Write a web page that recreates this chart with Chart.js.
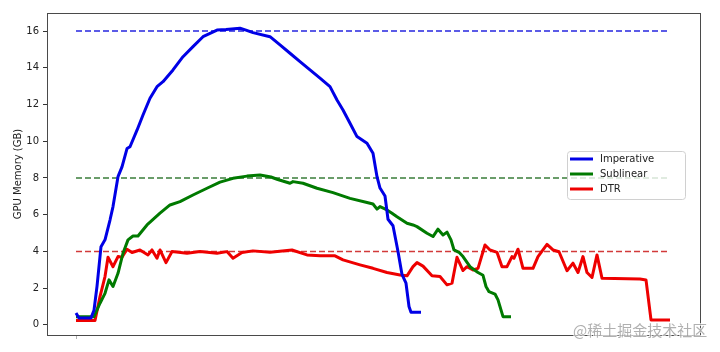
<!DOCTYPE html>
<html>
<head>
<meta charset="utf-8">
<script src="https://cdn.jsdelivr.net/npm/chart.js@4.4.1/dist/chart.umd.min.js"></script>
<style>
  html, body { margin: 0; padding: 0; background: #ffffff; }
  #wrap { width: 720px; height: 352px; }
</style>
</head>
<body>
<div id="wrap"><canvas id="c" width="720" height="352"></canvas></div>
<script>
// ---- data (x = training step position, y = GPU memory in GB) ----
const seriesNames = ['Imperative', 'Sublinear', 'DTR'];
const budgets = [16, 8, 4];
const budgetStart = 0;
const budgetEnd = 594;
const yTicks = [0, 2, 4, 6, 8, 10, 12, 14, 16];
const xTicks = [0];
const yAxisTitle = 'GPU Memory (GB)';
const watermark = '@稀土掘金技术社区';

const imperativeX = [0,3,15,18,21,25,29,34,37,42,46,51,54,61,67,74,81,87,97,107,117,127,141,150,164,170,177,194,204,214,224,234,244,254,261,267,274,281,291,297,301,304,309,312,317,322,326,330,333,335,345];
const imperativeY = [0.65,0.38,0.38,0.8,2.1,4.26,4.63,5.71,6.44,8.07,8.6,9.6,9.7,10.6,11.43,12.34,12.97,13.24,13.88,14.6,15.15,15.69,16.05,16.08,16.15,16.05,15.91,15.69,15.24,14.79,14.33,13.88,13.43,12.97,12.24,11.7,10.98,10.25,9.89,9.34,8.07,7.45,7.02,5.75,5.4,4.0,2.75,2.27,1.0,0.69,0.69];

const sublinearX = [0,18,24,29,33,37,42,47,52,57,62,71,84,94,104,117,131,144,157,171,184,195,201,214,217,227,241,257,274,291,297,301,304,311,316,321,331,337,341,351,357,362,367,371,375,378,383,387,394,402,407,410,413,419,422,427,435];
const sublinearY = [0.45,0.45,1.18,1.72,2.45,2.09,2.81,3.9,4.63,4.84,4.84,5.44,6.08,6.53,6.71,7.07,7.44,7.77,7.98,8.1,8.16,8.05,7.93,7.71,7.8,7.71,7.44,7.2,6.89,6.66,6.58,6.3,6.44,6.26,6.08,5.89,5.53,5.44,5.35,4.99,4.81,5.21,4.9,5.05,4.63,4.08,3.95,3.72,3.17,2.85,2.7,2.09,1.81,1.68,1.36,0.45,0.45];

const dtrX = [0,19,24,29,32,37,42,46,51,56,64,72,76,81,84,90,96,111,124,141,151,157,166,177,194,216,231,244,259,267,284,297,311,324,331,337,341,347,356,364,371,376,381,387,391,397,402,409,414,421,426,431,436,438,442,447,457,462,471,477,483,491,497,502,507,511,516,521,526,564,570,575,594];
const dtrY = [0.24,0.24,1.54,2.63,3.68,3.17,3.72,3.68,4.12,3.94,4.08,3.81,4.08,3.63,4.08,3.39,3.99,3.9,3.99,3.9,3.99,3.63,3.94,4.03,3.96,4.08,3.81,3.76,3.76,3.54,3.27,3.08,2.85,2.72,2.67,3.17,3.39,3.2,2.67,2.63,2.18,2.27,3.68,2.96,3.17,2.99,3.08,4.35,4.08,3.95,3.17,3.17,3.72,3.63,4.12,3.08,3.08,3.72,4.38,4.08,3.98,2.95,3.36,2.85,3.72,2.85,2.58,3.81,2.54,2.5,2.45,0.27,0.27];

// ---- styles ----
const solidColors = ['#0000e6', '#007a00', '#ee0000'];
const dashColors = ['#2626e0', '#3a7d3a', '#d23a3a'];
const FONT = '"DejaVu Sans", "Liberation Sans", sans-serif';

function pts(xs, ys) { return xs.map((x, i) => ({ x: x, y: ys[i] })); }

const xsList = [imperativeX, sublinearX, dtrX];
const ysList = [imperativeY, sublinearY, dtrY];

const datasets = [];
seriesNames.forEach((name, i) => {
  datasets.push({
    label: name,
    data: pts(xsList[i], ysList[i]),
    borderColor: solidColors[i],
    borderWidth: 3,
    pointRadius: 0,
    tension: 0,
    fill: false,
    borderJoinStyle: 'round',
    order: 1
  });
});
budgets.forEach((b, i) => {
  datasets.push({
    label: 'budget-' + b,
    data: [{ x: budgetStart, y: b }, { x: budgetEnd, y: b }],
    borderColor: dashColors[i],
    borderWidth: 1.5,
    borderDash: [6, 3],
    pointRadius: 0,
    fill: false,
    order: 2
  });
});

const framePlugin = {
  id: 'frame',
  afterDraw(chart) {
    const { ctx, chartArea: a } = chart;
    ctx.save();
    ctx.strokeStyle = '#4a4a4a';
    ctx.lineWidth = 1;
    ctx.strokeRect(Math.round(a.left) + 0.5, Math.round(a.top) + 0.5,
                   Math.round(a.right - a.left), Math.round(a.bottom - a.top));

    // legend
    const lx = 567.5, ly = 151.5, lw = 118, lh = 48, r = 3;
    ctx.beginPath();
    ctx.moveTo(lx + r, ly);
    ctx.lineTo(lx + lw - r, ly);
    ctx.arcTo(lx + lw, ly, lx + lw, ly + r, r);
    ctx.lineTo(lx + lw, ly + lh - r);
    ctx.arcTo(lx + lw, ly + lh, lx + lw - r, ly + lh, r);
    ctx.lineTo(lx + r, ly + lh);
    ctx.arcTo(lx, ly + lh, lx, ly + lh - r, r);
    ctx.lineTo(lx, ly + r);
    ctx.arcTo(lx, ly, lx + r, ly, r);
    ctx.closePath();
    ctx.fillStyle = 'rgba(255,255,255,0.8)';
    ctx.fill();
    ctx.strokeStyle = '#d0d0d0';
    ctx.stroke();
    ctx.font = '10px ' + FONT;
    ctx.textBaseline = 'middle';
    ctx.textAlign = 'left';
    seriesNames.forEach((name, i) => {
      const y = 159 + 15 * i;
      ctx.beginPath();
      ctx.moveTo(570, y);
      ctx.lineTo(593, y);
      ctx.strokeStyle = solidColors[i];
      ctx.lineWidth = 3;
      ctx.stroke();
      ctx.fillStyle = '#222222';
      ctx.fillText(name, 600, y + 0.5);
    });

    // watermark
    ctx.font = '15px "Noto Sans CJK SC", sans-serif';
    ctx.textBaseline = 'middle';
    ctx.lineWidth = 2;
    ctx.strokeStyle = 'rgba(255,255,255,0.7)';
    ctx.strokeText(watermark, 573, 330);
    ctx.fillStyle = 'rgba(150,150,150,0.75)';
    ctx.fillText(watermark, 573, 330);
    ctx.restore();
  }
};

new Chart(document.getElementById('c'), {
  type: 'line',
  data: { datasets: datasets },
  options: {
    responsive: false,
    animation: false,
    devicePixelRatio: 1,
    layout: { padding: { top: 13, right: 20, bottom: 0, left: 0 } },
    plugins: { legend: { display: false }, tooltip: { enabled: false } },
    scales: {
      x: {
        type: 'linear',
        min: -29,
        max: 624,
        border: { display: false },
        grid: { display: true, drawOnChartArea: false, drawTicks: true, tickLength: 4, color: '#b0b0b0' },
        ticks: { callback: () => '', padding: 0 },
        afterBuildTicks: (s) => { s.ticks = xTicks.map(v => ({ value: v })); },
        afterFit: (s) => { s.height = 17; }
      },
      y: {
        type: 'linear',
        min: -0.55,
        max: 16.98,
        border: { display: false },
        grid: { display: true, drawOnChartArea: false, drawTicks: true, tickLength: 4, color: '#333333' },
        ticks: { font: { family: FONT, size: 10 }, color: '#222222', padding: 4, autoSkip: false },
        afterBuildTicks: (s) => { s.ticks = yTicks.map(v => ({ value: v })); },
        title: { display: true, text: yAxisTitle, font: { family: FONT, size: 10 }, color: '#222222', padding: { top: 12, bottom: 0 } },
        afterFit: (s) => { s.width = 47; }
      }
    }
  },
  plugins: [framePlugin]
});
</script>
</body>
</html>
